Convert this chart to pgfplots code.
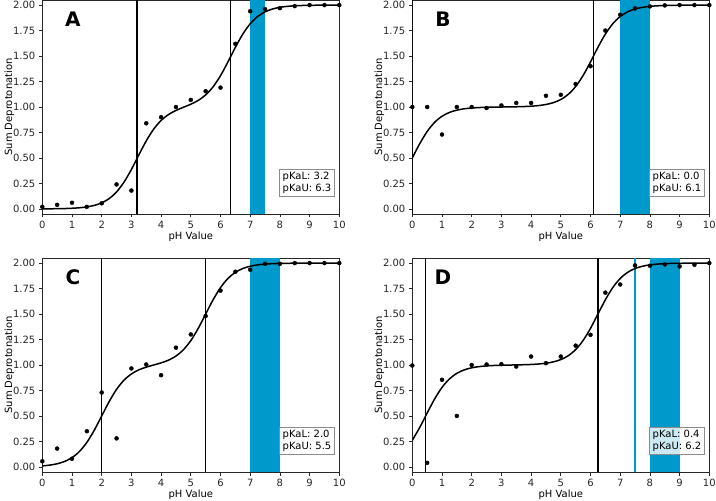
\documentclass[border=0pt]{standalone}
\usepackage{fontspec}
\setmainfont{DejaVu Sans}
\usepackage{pgfplots}
\pgfplotsset{compat=1.18}

\definecolor{bandblue}{RGB}{0,153,204}
\definecolor{framegray}{RGB}{40,40,40}

\pgfplotsset{
  panel/.style={
    scale only axis,
    width=297bp, height=214bp,
    xmin=0, xmax=10, ymin=-0.05, ymax=2.05,
    xtick={0,1,...,10},
    ytick={0,0.25,0.5,0.75,1,1.25,1.5,1.75,2},
    tick pos=left, tick align=outside,
    major tick length=3.5bp,
    every tick/.style={framegray, line width=0.7bp},
    axis line style={framegray, line width=0.8bp},
    /pgf/number format/assume math mode=true,
    yticklabel style={/pgf/number format/fixed, /pgf/number format/fixed zerofill, /pgf/number format/precision=2},
    xticklabel style={/pgf/number format/fixed},
    tick label style={font=\fontsize{10bp}{12bp}\selectfont, text=black!85},
    label style={font=\fontsize{10bp}{12bp}\selectfont, text=black!85},
    xlabel={pH Value}, ylabel={Sum Deprotonation},
    every axis x label/.style={at={(axis description cs:0.5,-0.107)}, anchor=center},
    every axis y label/.style={at={(axis description cs:-0.111,0.5)}, anchor=center, rotate=90},
    clip=true,
  },
  fit/.style={black, line width=1.5bp, smooth},
  pts/.style={only marks, mark=*, mark size=2bp, black},
  vline/.style={black, line width=1.5bp},
  band/.style={fill=bandblue, draw=none},
}
\newcommand{\panelletter}[1]{\node[font=\fontsize{20bp}{24bp}\selectfont\bfseries, anchor=center] at (rel axis cs:0.103,0.908) {#1};}
\newcommand{\pkabox}[2]{\node[draw=black!45, fill=white, fill opacity=0.8, text opacity=1, line width=0.7bp,
  inner xsep=3.5bp, inner ysep=3bp, align=left, anchor=south east,
  font=\fontsize{10bp}{11.5bp}\selectfont] at (rel axis cs:0.986,0.081) {pKaL: #1\\pKaU: #2};}

\begin{document}
\begin{tikzpicture}[x=1bp,y=1bp]

% ---------- A ----------
\begin{axis}[panel, at={(42.3bp,287bp)}, anchor=south west]
\addplot[band] coordinates {(7,-0.05) (7.5,-0.05) (7.5,2.05) (7,2.05)} -- cycle;
\addplot[vline] coordinates {(3.19,-0.05) (3.19,2.05)};
\addplot[vline] coordinates {(6.33,-0.05) (6.33,2.05)};
\addplot[fit] coordinates {
 (0,0.0006) (0.25,0.0011) (0.5,0.0020) (0.75,0.0035) (1,0.0063) (1.25,0.0111)
 (1.5,0.0196) (1.75,0.0343) (2,0.0594) (2.25,0.1009) (2.5,0.1663) (2.75,0.2619)
 (3,0.3869) (3.25,0.5296) (3.5,0.6675) (3.75,0.7826) (4,0.8677) (4.25,0.9261)
 (4.5,0.9662) (4.75,0.9971) (5,1.0272) (5.25,1.0648) (5.5,1.1188) (5.75,1.1980)
 (6,1.3072) (6.25,1.4418) (6.5,1.5850) (6.75,1.7150) (7,1.8169) (7.25,1.8881)
 (7.5,1.9338) (7.75,1.9617) (8,1.9781) (8.25,1.9876) (8.5,1.9930) (8.75,1.9960)
 (9,1.9978) (9.5,1.9993) (10,1.9998)};
\addplot[pts] coordinates {
 (0,0.02) (0.5,0.04) (1,0.06) (1.5,0.02) (2,0.055) (2.5,0.24) (3,0.18)
 (3.5,0.84) (4,0.90) (4.5,1.00) (5,1.07) (5.5,1.155) (6,1.19) (6.5,1.62)
 (7,1.94) (7.5,1.96) (8,1.97) (8.5,1.99) (9,2.00) (9.5,2.00) (10,2.00)};
\panelletter{A}
\pkabox{3.2}{6.3}
\end{axis}

% ---------- B ----------
\begin{axis}[panel, at={(412.3bp,287bp)}, anchor=south west]
\addplot[band] coordinates {(7,-0.05) (8,-0.05) (8,2.05) (7,2.05)} -- cycle;
\addplot[vline] coordinates {(0,-0.05) (0,2.05)};
\addplot[vline] coordinates {(6.10,-0.05) (6.10,2.05)};
\addplot[fit] coordinates {
 (0,0.5) (0.25,0.6401) (0.5,0.7597) (0.75,0.8490) (1,0.9091) (1.25,0.9468)
 (1.5,0.9693) (1.75,0.9825) (2,0.9902) (2.25,0.9946) (2.5,0.9971) (2.75,0.9987)
 (3,0.9998) (3.25,1.0008) (3.5,1.0022) (3.75,1.0043) (4,1.0078) (4.25,1.0138)
 (4.5,1.0245) (4.75,1.0428) (5,1.0736) (5.25,1.1238) (5.5,1.2008) (5.75,1.3088)
 (6,1.4427) (6.25,1.5855) (6.5,1.7153) (6.75,1.8171) (7,1.8882) (7.25,1.9339)
 (7.5,1.9617) (7.75,1.9781) (8,1.9876) (8.25,1.9930) (8.5,1.9960) (8.75,1.9978)
 (9,1.9987) (9.5,1.9996) (10,1.9999)};
\addplot[pts] coordinates {
 (0,1.00) (0.5,1.00) (1,0.73) (1.5,1.00) (2,1.00) (2.5,0.99) (3,1.015)
 (3.5,1.04) (4,1.04) (4.5,1.11) (5,1.12) (5.5,1.225) (6,1.40) (6.5,1.75)
 (7,1.905) (7.5,1.967) (8,1.987) (8.5,1.997) (9,2.00) (9.5,2.00) (10,2.00)};
\panelletter{B}
\pkabox{0.0}{6.1}
\end{axis}

% ---------- C ----------
\begin{axis}[panel, at={(42.3bp,29bp)}, anchor=south west]
\addplot[band] coordinates {(7,-0.05) (8,-0.05) (8,2.05) (7,2.05)} -- cycle;
\addplot[vline] coordinates {(2.0,-0.05) (2.0,2.05)};
\addplot[vline] coordinates {(5.49,-0.05) (5.49,2.05)};
\addplot[fit] coordinates {
 (0,0.0099) (0.25,0.0175) (0.5,0.0307) (0.75,0.0532) (1,0.0909) (1.25,0.1510)
 (1.5,0.2403) (1.75,0.3599) (2,0.5003) (2.25,0.6407) (2.5,0.7607) (2.75,0.8508)
 (3,0.9123) (3.25,0.9524) (3.5,0.9792) (3.75,1.0000) (4,1.0208) (4.25,1.0476)
 (4.5,1.0877) (4.75,1.1492) (5,1.2393) (5.25,1.3593) (5.5,1.4997) (5.75,1.6399)
 (6,1.7596) (6.25,1.8489) (6.5,1.9091) (6.75,1.9468) (7,1.9693) (7.25,1.9825)
 (7.5,1.9901) (7.75,1.9944) (8,1.9968) (8.5,1.9990) (9,1.9997) (10,2.0)};
\addplot[pts] coordinates {
 (0,0.055) (0.5,0.18) (1,0.08) (1.5,0.35) (2,0.73) (2.5,0.28) (3,0.966)
 (3.5,1.005) (4,0.90) (4.5,1.17) (5,1.30) (5.5,1.48) (6,1.73) (6.5,1.915)
 (7,1.935) (7.5,1.993) (8,1.993) (8.5,2.00) (9,2.00) (9.5,2.00) (10,2.00)};
\panelletter{C}
\pkabox{2.0}{5.5}
\end{axis}

% ---------- D ----------
\begin{axis}[panel, at={(412.3bp,29bp)}, anchor=south west]
\addplot[band] coordinates {(8,-0.05) (9,-0.05) (9,2.05) (8,2.05)} -- cycle;
\addplot[bandblue, line width=1.2bp] coordinates {(7.5,-0.05) (7.5,2.05)};
\addplot[vline] coordinates {(0.45,-0.05) (0.45,2.05)};
\addplot[vline] coordinates {(6.26,-0.05) (6.26,2.05)};
\addplot[fit] coordinates {
 (0,0.2619) (0.25,0.3869) (0.5,0.5288) (0.75,0.6661) (1,0.7801) (1.25,0.8632)
 (1.5,0.9182) (1.75,0.9523) (2,0.9726) (2.25,0.9844) (2.5,0.9914) (2.75,0.9953)
 (3,0.9978) (3.25,0.9994) (3.5,1.0009) (3.75,1.0027) (4,1.0053) (4.25,1.0097)
 (4.5,1.0174) (4.75,1.0306) (5,1.0532) (5.25,1.0909) (5.5,1.1510) (5.75,1.2403)
 (6,1.3599) (6.25,1.5) (6.5,1.6401) (6.75,1.7597) (7,1.8490) (7.25,1.9091)
 (7.5,1.9468) (7.75,1.9693) (8,1.9825) (8.25,1.9901) (8.5,1.9944) (8.75,1.9968)
 (9,1.9982) (9.5,1.9994) (10,2.0)};
\addplot[pts] coordinates {
 (0,0.995) (0.5,0.04) (1,0.855) (1.5,0.50) (2,1.00) (2.5,1.005) (3,1.008)
 (3.5,0.985) (4,1.083) (4.5,1.018) (5,1.083) (5.5,1.19) (6,1.296) (6.5,1.71)
 (7,1.79) (7.5,1.977) (8,1.974) (8.5,1.987) (9,1.967) (9.5,1.984) (10,2.00)};
\panelletter{D}
\pkabox{0.4}{6.2}
\end{axis}

\pgfresetboundingbox
\useasboundingbox (0,0) rectangle (716bp,501bp);
\end{tikzpicture}
\end{document}
